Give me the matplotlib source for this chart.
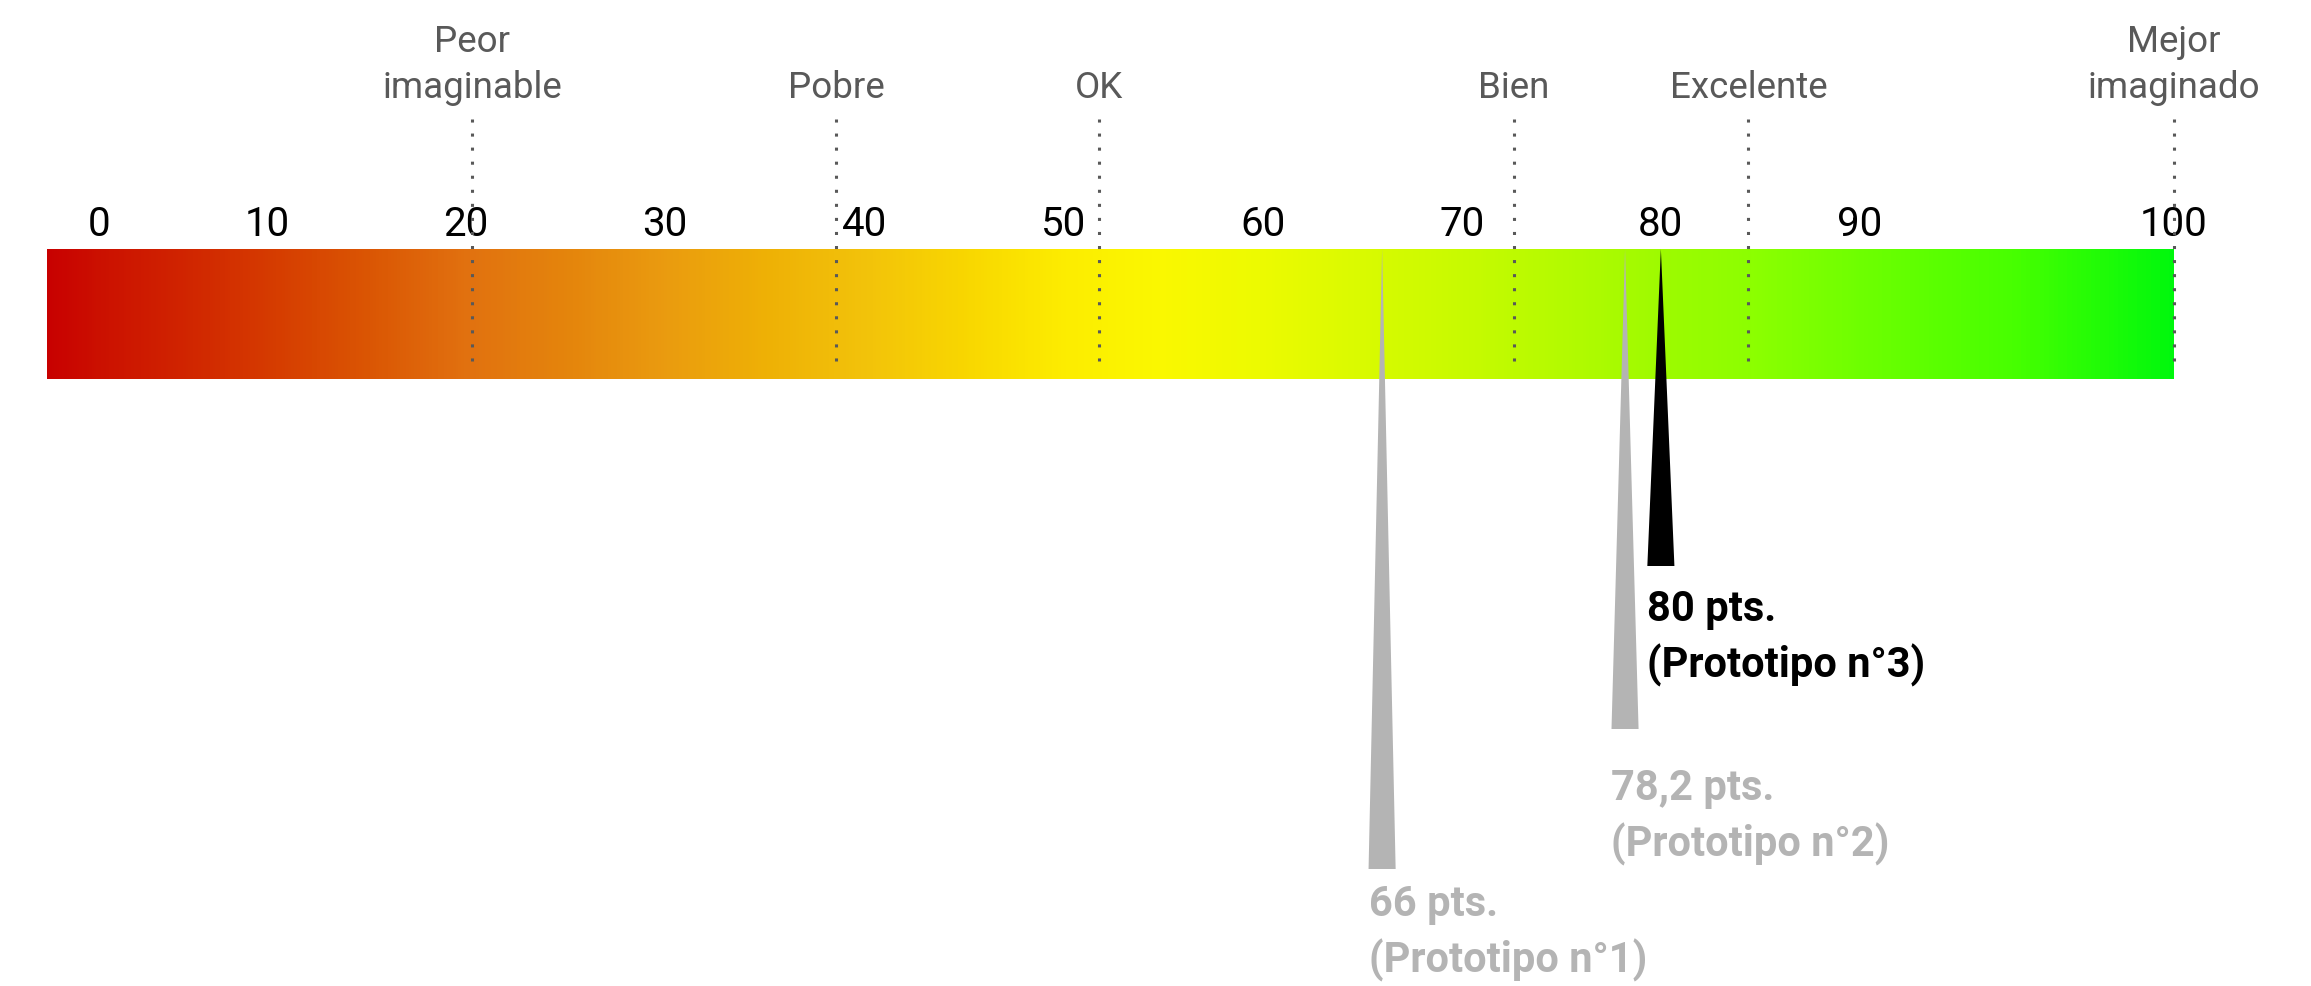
import numpy as np
import matplotlib
matplotlib.use("Agg")
import matplotlib.pyplot as plt
from matplotlib.colors import LinearSegmentedColormap
from matplotlib.patches import Polygon

plt.rcParams["font.family"] = ["Roboto", "DejaVu Sans"]

# --- Datos -----------------------------------------------------------------
ticks = [0, 10, 20, 30, 40, 50, 60, 70, 80, 90, 100]

zone_names = ["Peor\nimaginable", "Pobre", "OK", "Bien", "Excelente", "Mejor\nimaginado"]
zone_values = [20.3, 38.6, 51.8, 72.6, 84.4, 100]

prototypes = ["Prototipo n°1", "Prototipo n°2", "Prototipo n°3"]
scores = [66, 78.2, 80]

# --- Estilo ----------------------------------------------------------------
W, H = 2311, 987
BAR_START = -3.1
BAR_TOP, BAR_BOTTOM = 250, 380
marker_colors = ["#b4b4b4", "#b4b4b4", "#000000"]
marker_bottoms = [870, 730, 567]
label_gaps = [14, 38, 22]
MARKER_HALF = 0.68
ZONE_COLOR = "#595959"

grad_stops = [
    (-3.1, (200, 0, 0)), (0, (203, 16, 0)), (5, (208, 36, 0)), (10, (213, 58, 0)),
    (15, (218, 85, 3)), (20, (225, 113, 15)), (25, (228, 132, 12)), (30, (234, 155, 15)),
    (35, (238, 176, 5)), (40, (242, 194, 10)), (45, (248, 214, 0)), (50, (252, 236, 0)),
    (55, (250, 248, 0)), (60, (236, 250, 0)), (65, (217, 250, 0)), (70, (200, 250, 0)),
    (75, (180, 250, 0)), (80, (158, 250, 0)), (85, (138, 255, 0)), (90, (110, 255, 0)),
    (95, (70, 255, 0)), (100, (0, 248, 12)),
]

# Escala horizontal: tramo central lineal entre 10 y 90, extremos propios
KNOTS_V = np.array([-100.0, 0.0, 10.0, 90.0, 100.0, 200.0])
KNOTS_P = np.array([99 - 100 * 16.8, 99.0, 267.0, 1860.0, 2174.0, 2174 + 100 * 31.4])


def forward(v):
    return np.interp(v, KNOTS_V, KNOTS_P)


def inverse(p):
    return np.interp(p, KNOTS_P, KNOTS_V)


fig = plt.figure(figsize=(W / 100, H / 100), dpi=100)
fig.patch.set_facecolor("white")
x0 = forward(BAR_START)
x1 = forward(100)
ax = fig.add_axes([x0 / W, (H - BAR_BOTTOM) / H, (x1 - x0) / W, (BAR_BOTTOM - BAR_TOP) / H])
ax.set_xscale("function", functions=(forward, inverse))
ax.set_xlim(BAR_START, 100)
ax.set_ylim(BAR_BOTTOM, BAR_TOP)
for s in ax.spines.values():
    s.set_visible(False)
ax.set_facecolor("none")

# Barra degradada
lo, hi = grad_stops[0][0], grad_stops[-1][0]
cmap = LinearSegmentedColormap.from_list(
    "sus", [((v - lo) / (hi - lo), tuple(c / 255 for c in rgb)) for v, rgb in grad_stops], N=1024)
xe = np.linspace(BAR_START, 100, 700)
xc = (xe[:-1] + xe[1:]) / 2
ax.pcolormesh(xe, [BAR_TOP, BAR_BOTTOM], xc[np.newaxis, :], cmap=cmap, vmin=lo, vmax=hi,
              shading="flat", edgecolors="none", antialiased=False, zorder=0)

# Ejes: valores en la parte superior
ax.xaxis.tick_top()
ax.set_xticks(ticks)
ax.set_xticklabels([str(t) for t in ticks])
ax.tick_params(axis="x", length=0, pad=4, labelsize=29, labelcolor="black")
ax.set_yticks([])

# Zonas cualitativas
for name, v in zip(zone_names, zone_values):
    ax.plot([v, v], [120, 366], color=ZONE_COLOR, lw=2.2, linestyle=(0, (1, 3.6)),
            dash_capstyle="butt", clip_on=False, zorder=2)
    ax.text(v, 106, name, ha="center", va="bottom", fontsize=26.5, color=ZONE_COLOR,
            linespacing=1.35, clip_on=False)

# Marcadores de los prototipos
for name, s, c, yb, gap in zip(prototypes, scores, marker_colors, marker_bottoms, label_gaps):
    tri = Polygon([(s, BAR_TOP), (s - MARKER_HALF, yb), (s + MARKER_HALF, yb)],
                  closed=True, facecolor=c, edgecolor="none", clip_on=False, zorder=3)
    ax.add_patch(tri)
    label = f"{s:g}".replace(".", ",") + f" pts.\n({name})"
    ax.text(s - MARKER_HALF, yb + gap, label, ha="left", va="top", fontsize=30,
            fontweight="bold", color=c, linespacing=1.4, clip_on=False)

fig.savefig("out.png", dpi=100, facecolor="white")
